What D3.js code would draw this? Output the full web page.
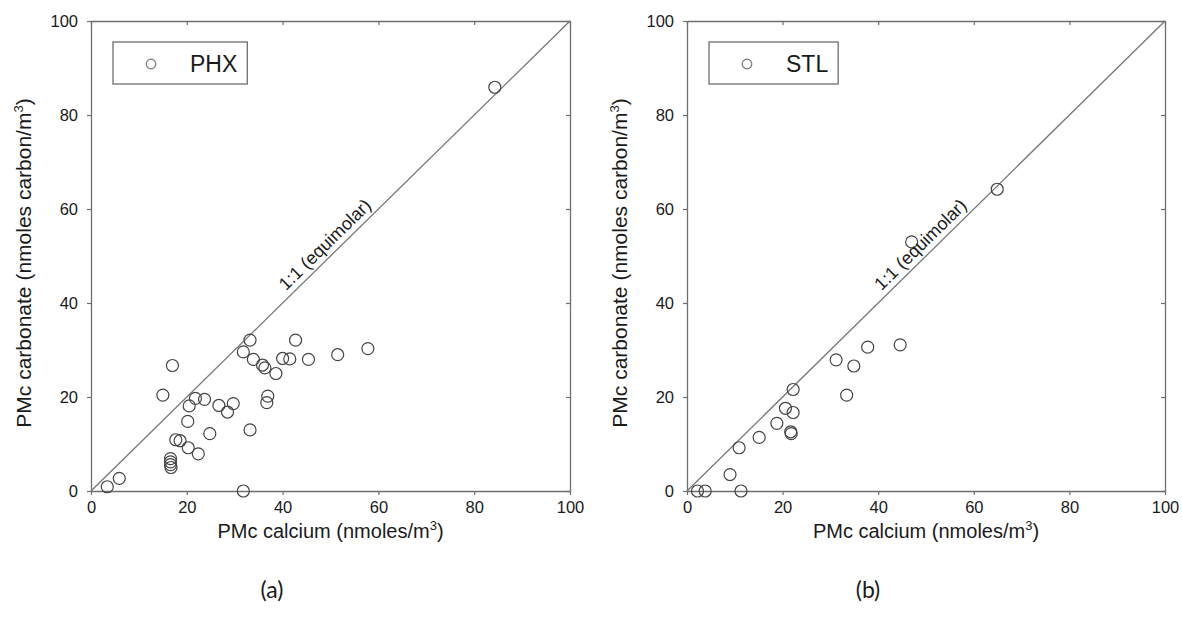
<!DOCTYPE html>
<html>
<head>
<meta charset="utf-8">
<script src="https://cdn.jsdelivr.net/npm/d3@7"></script>
<style>
  body { margin: 0; background: #fff; }
  svg { display: block; }
  text { font-family: "Liberation Sans", Arial, sans-serif; fill: #1a1a1a; }
</style>
</head>
<body>
<svg id="chart" width="1182" height="632"></svg>
<script>
// PMc calcium vs carbonate measurements, nmoles/m3
const phxCalcium = [3.4, 5.9, 15.0, 17.0, 16.6, 16.6, 16.6, 16.7, 17.7, 18.6, 20.2, 20.3, 20.5, 21.8, 22.4, 23.7, 24.8, 26.7, 28.5, 29.7, 31.8, 31.8, 33.2, 33.2, 33.9, 35.8, 36.3, 36.7, 36.9, 38.6, 40.0, 41.5, 42.7, 45.4, 51.5, 57.8, 84.3];
const phxCarbonate = [0.9, 2.7, 20.4, 26.7, 6.9, 6.2, 5.6, 5.0, 10.9, 10.7, 14.8, 9.2, 18.1, 19.7, 7.9, 19.5, 12.2, 18.2, 16.8, 18.6, 29.6, 0.0, 32.1, 13.0, 28.0, 26.8, 26.2, 18.8, 20.2, 25.0, 28.2, 28.1, 32.1, 28.0, 29.0, 30.3, 85.9];

const stlCalcium = [2.2, 3.8, 11.3, 9.0, 10.9, 15.1, 18.8, 20.6, 22.2, 22.2, 21.7, 21.8, 33.4, 31.2, 34.9, 37.8, 44.6, 47.0, 64.9];
const stlCarbonate = [0.0, 0.0, 0.0, 3.5, 9.2, 11.4, 14.4, 17.6, 16.7, 21.6, 12.6, 12.2, 20.4, 27.9, 26.6, 30.6, 31.1, 53.0, 64.2];

const tickValues = [0, 20, 40, 60, 80, 100];
const siteNames = ["PHX", "STL"];
const panelTags = ["(a)", "(b)"];
const lineLabel = "1:1 (equimolar)";
const equimolar = [0, 100];

const svg = d3.select("#chart");
const frameColor = "#6e6e6e";
const markColor = "#444";

const panels = [
  { left: 91, right: 570, top: 21, bottom: 491, ca: phxCalcium, co: phxCarbonate, name: siteNames[0], tag: panelTags[0], tagX: 272 },
  { left: 687, right: 1165, top: 21, bottom: 491, ca: stlCalcium, co: stlCarbonate, name: siteNames[1], tag: panelTags[1], tagX: 868 }
];

panels.forEach(p => {
  const x = d3.scaleLinear().domain([0, 100]).range([p.left, p.right]);
  const y = d3.scaleLinear().domain([0, 100]).range([p.bottom, p.top]);
  const g = svg.append("g");

  // frame: outward ticks on bottom/left, inward on top/right
  const styleAxis = sel => {
    sel.select(".domain").attr("stroke", frameColor).attr("stroke-width", 1.3);
    sel.selectAll(".tick line").attr("stroke", frameColor).attr("stroke-width", 1.2);
    sel.selectAll(".tick text").style("font-size", "16.5px").style("font-family", "Liberation Sans, Arial, sans-serif").attr("fill", "#1a1a1a");
  };
  g.append("g").attr("transform", `translate(0,${p.bottom})`)
    .call(d3.axisBottom(x).tickValues(tickValues).tickSize(4).tickPadding(6).tickSizeOuter(0))
    .call(styleAxis);
  g.append("g").attr("transform", `translate(${p.left},0)`)
    .call(d3.axisLeft(y).tickValues(tickValues).tickSize(4).tickPadding(9).tickSizeOuter(0))
    .call(styleAxis);
  g.append("g").attr("transform", `translate(0,${p.top})`)
    .call(d3.axisBottom(x).tickValues(tickValues).tickSize(4).tickFormat("").tickSizeOuter(0))
    .call(styleAxis);
  g.append("g").attr("transform", `translate(${p.right},0)`)
    .call(d3.axisLeft(y).tickValues(tickValues).tickSize(4).tickFormat("").tickSizeOuter(0))
    .call(styleAxis);

  // 1:1 reference line
  g.append("line")
    .attr("x1", x(equimolar[0])).attr("y1", y(equimolar[0]))
    .attr("x2", x(equimolar[1])).attr("y2", y(equimolar[1]))
    .attr("stroke", "#777").attr("stroke-width", 1.3);

  // points
  g.selectAll("circle.pt").data(p.ca.map((c, i) => [c, p.co[i]]))
    .join("circle").attr("class", "pt")
    .attr("cx", d => x(d[0])).attr("cy", d => y(d[1]))
    .attr("r", 6).attr("fill", "none")
    .attr("stroke", markColor).attr("stroke-width", 1.2);

  // label along the 1:1 line
  const ang = Math.atan2(y(100) - y(0), x(100) - x(0)) * 180 / Math.PI;
  const lx = x(50.6), ly = y(50.6);
  g.append("text")
    .attr("transform", `translate(${lx},${ly}) rotate(${ang})`)
    .attr("text-anchor", "middle").attr("dy", -6)
    .style("font-size", "18px")
    .text(lineLabel);

  // legend
  const bx = p.left + 22, by = 42;
  const leg = g.append("g");
  const box = leg.append("rect");
  const lt = leg.append("text").attr("x", bx + 77).attr("y", by + 30)
    .style("font-size", "23px").text(p.name);
  const tw = lt.node().getComputedTextLength();
  box.attr("x", bx).attr("y", by).attr("width", 77 + tw + 10).attr("height", 42)
    .attr("fill", "#fff").attr("stroke", frameColor).attr("stroke-width", 1.3);
  leg.append("circle").attr("cx", bx + 38).attr("cy", by + 22).attr("r", 4.8)
    .attr("fill", "none").attr("stroke", "#777").attr("stroke-width", 1.2);

  // axis titles
  const xt = g.append("text").attr("x", (p.left + p.right) / 2).attr("y", 538)
    .attr("text-anchor", "middle").style("font-size", "20px");
  xt.append("tspan").text("PMc calcium (nmoles/m");
  xt.append("tspan").attr("dy", -8).style("font-size", "13px").text("3");
  xt.append("tspan").attr("dy", 8).text(")");

  const yt = g.append("text")
    .attr("transform", `translate(${p.left - 60},${(p.top + p.bottom) / 2 + 7}) rotate(-90)`)
    .attr("text-anchor", "middle").style("font-size", "21px");
  yt.append("tspan").text("PMc carbonate (nmoles carbon/m");
  yt.append("tspan").attr("dy", -8).style("font-size", "13px").text("3");
  yt.append("tspan").attr("dy", 8).text(")");

  // panel tag
  svg.append("text").attr("x", p.tagX).attr("y", 598).attr("text-anchor", "middle")
    .style("font-family", "Lato, 'Open Sans', sans-serif").style("font-size", "23px")
    .text(p.tag);
});
</script>
</body>
</html>
